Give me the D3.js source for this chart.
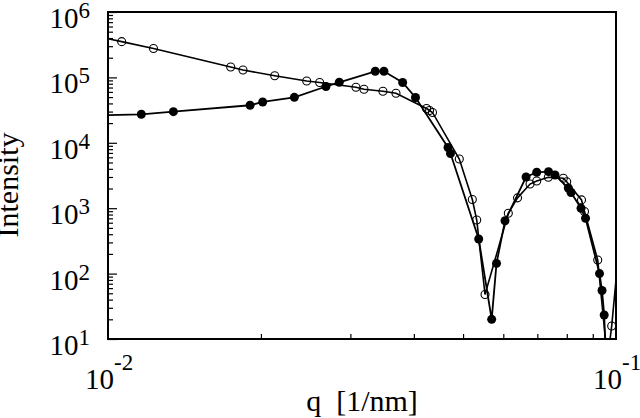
<!DOCTYPE html>
<html>
<head>
<meta charset="utf-8">
<script src="https://cdn.jsdelivr.net/npm/d3@7"></script>
<style>
  body { margin: 0; background: #fff; }
  svg { display: block; }
</style>
</head>
<body>
<div id="chart"></div>
<script>
// Valores (q em 1/nm, intensidade)
const openQ = [0.00964, 0.01064, 0.01229, 0.01744, 0.01844, 0.02129, 0.02461, 0.0261, 0.03077, 0.03191,
  0.03477, 0.03689, 0.04237, 0.04295, 0.04353, 0.04915, 0.05214, 0.05319, 0.05523, 0.06138, 0.064,
  0.06773, 0.06982, 0.07358, 0.07876, 0.07998, 0.08553, 0.0867, 0.09205, 0.09622, 0.09807, 0.10276];
const openI = [415000, 352000, 277000, 144000, 130000, 106000, 88100, 83600, 70600, 66000,
  61300, 57100, 33500, 31200, 29100, 5650, 1360, 660, 47.9, 836, 1440,
  2340, 2610, 2970, 2870, 2540, 1340, 890, 161, 4.77, 15.8, 760];

const filledQ = [0.00964, 0.01163, 0.01345, 0.01904, 0.02016, 0.02327, 0.02686, 0.02853, 0.03358, 0.03493,
  0.03802, 0.0403, 0.0467, 0.04723, 0.05367, 0.05692, 0.05818, 0.06047, 0.06652, 0.06982,
  0.07365, 0.07585, 0.08056, 0.08156, 0.08534, 0.0871, 0.0928, 0.09386, 0.0948, 0.09579];
const filledI = [26400, 27300, 29900, 37500, 42100, 49600, 72600, 84200, 124000, 124000,
  83600, 49300, 8480, 6860, 338, 20.0, 143, 644, 3000, 3540,
  3620, 3220, 2040, 1740, 997, 701, 100, 55.1, 23.3, 2.36];

const xTickExp = [-2, -1];
const yTickExp = [1, 2, 3, 4, 5, 6];

const xTitle = 'q  [1/nm]';
const yTitle = 'Intensity';

const FONT = '"Liberation Serif", "Times New Roman", Times, serif';

const W = 640, H = 418;
const margin = { top: 12, right: 24, bottom: 79, left: 108 };
const width = W - margin.left - margin.right;
const height = H - margin.top - margin.bottom;

const svg = d3.select('#chart').append('svg')
  .attr('width', W)
  .attr('height', H);

const g = svg.append('g')
  .attr('transform', `translate(${margin.left},${margin.top})`);

// Escalas log
const x = d3.scaleLog().domain([0.01, 0.1]).range([0, width]);
const y = d3.scaleLog().domain([10, 1e6]).range([height, 0]);

// Ticks menores (2..9 em cada década)
const xMinor = [];
for (let m = 2; m <= 9; m++) xMinor.push(m * 0.01);
const yMinor = [];
for (let e = 1; e <= 5; e++) for (let m = 2; m <= 9; m++) yMinor.push(m * Math.pow(10, e));
const yMajor = yTickExp.map(e => Math.pow(10, e));

g.append('g')
  .attr('transform', `translate(0,${height})`)
  .call(d3.axisBottom(x).tickValues(xMinor).tickSize(-5).tickFormat(''))
  .call(a => a.select('.domain').remove());

g.append('g')
  .call(d3.axisLeft(y).tickValues(yMinor).tickSize(-5).tickFormat(''))
  .call(a => a.select('.domain').remove());

g.append('g')
  .call(d3.axisLeft(y).tickValues(yMajor).tickSize(-9).tickFormat(''))
  .call(a => a.select('.domain').remove());

g.selectAll('.tick line').attr('stroke', '#000').attr('stroke-width', 1.2);

// Rótulos dos ticks com expoente
const yLab = g.selectAll('.ylab')
  .data(yTickExp)
  .enter()
  .append('text')
  .attr('class', 'ylab')
  .attr('x', -18)
  .attr('y', d => y(Math.pow(10, d)) + 16)
  .attr('text-anchor', 'end')
  .attr('font-family', FONT)
  .attr('font-size', 29);
yLab.append('tspan').text('10');
yLab.append('tspan').attr('dy', -10).attr('font-size', 23).text(d => d);

const xLab = g.selectAll('.xlab')
  .data(xTickExp)
  .enter()
  .append('text')
  .attr('class', 'xlab')
  .attr('x', d => x(Math.pow(10, d)) - 23)
  .attr('y', height + 50)
  .attr('font-family', FONT)
  .attr('font-size', 29);
xLab.append('tspan').text('10');
xLab.append('tspan').attr('dy', -19).attr('font-size', 23).text(d => d);

// Títulos
g.append('text')
  .attr('x', width / 2)
  .attr('y', height + 72)
  .attr('text-anchor', 'middle')
  .attr('font-family', FONT)
  .attr('font-size', 30)
  .attr('xml:space', 'preserve')
  .style('white-space', 'pre')
  .text(xTitle);

g.append('text')
  .attr('transform', `translate(${18 - margin.left},${185 - margin.top}) rotate(-90)`)
  .attr('text-anchor', 'middle')
  .attr('font-family', FONT)
  .attr('font-size', 30)
  .text(yTitle);

// Área de recorte
svg.append('defs').append('clipPath')
  .attr('id', 'plot-clip')
  .append('rect')
  .attr('width', width)
  .attr('height', height);

const plot = g.append('g').attr('clip-path', 'url(#plot-clip)');

const line = d3.line()
  .x(d => x(d[0]))
  .y(d => y(d[1]));

const openData = openQ.map((q, i) => [q, openI[i]]);
const filledData = filledQ.map((q, i) => [q, filledI[i]]);

plot.append('path')
  .datum(openData)
  .attr('d', line)
  .attr('fill', 'none')
  .attr('stroke', '#000')
  .attr('stroke-width', 1.6);

plot.append('path')
  .datum(filledData)
  .attr('d', line)
  .attr('fill', 'none')
  .attr('stroke', '#000')
  .attr('stroke-width', 1.8);

plot.selectAll('.open-dot')
  .data(openData)
  .enter()
  .append('circle')
  .attr('class', 'open-dot')
  .attr('cx', d => x(d[0]))
  .attr('cy', d => y(d[1]))
  .attr('r', 4)
  .attr('fill', 'none')
  .attr('stroke', '#000')
  .attr('stroke-width', 1.1);

plot.selectAll('.filled-dot')
  .data(filledData)
  .enter()
  .append('circle')
  .attr('class', 'filled-dot')
  .attr('cx', d => x(d[0]))
  .attr('cy', d => y(d[1]))
  .attr('r', 4.5)
  .attr('fill', '#000');

// Moldura
g.append('rect')
  .attr('width', width)
  .attr('height', height)
  .attr('fill', 'none')
  .attr('stroke', '#000')
  .attr('stroke-width', 2);
</script>
</body>
</html>
